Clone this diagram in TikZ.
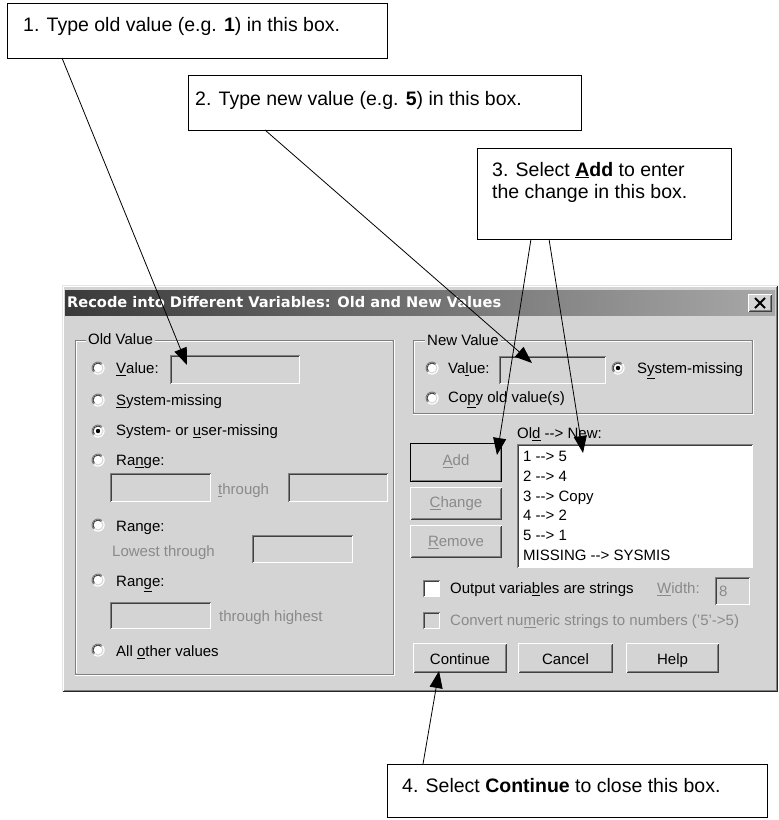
\documentclass[tikz,border=0pt]{standalone}
\usepackage{fontspec}
\setmainfont{Liberation Sans}
\newfontfamily\titlefont{DejaVu Sans}
\usetikzlibrary{arrows.meta,calc}
\definecolor{dlgbg}{HTML}{D4D4D4}
\definecolor{bvshade}{HTML}{808080}
\definecolor{bvdark}{HTML}{404040}
\definecolor{distext}{HTML}{8A8A8A}
\definecolor{tbl}{HTML}{3A3A3A}
\definecolor{tbr}{HTML}{A8A8A8}
\newcommand\arrw{-{}->}
\tikzset{
  x=1pt,y=-1pt,
  callout/.style={draw=black,line width=0.9pt,fill=white,inner sep=0,outer sep=0},
  ctext/.style={anchor=base west,inner sep=0,font=\fontsize{19.5}{22}\selectfont},
  arr/.style={line width=0.8pt,-{Triangle[length=17pt,width=13pt]}},
  dtext/.style={anchor=west,inner sep=0,text height=10.7pt,text depth=0pt,font=\fontsize{15}{17}\selectfont},
  gtext/.style={dtext,text=distext},
  box/.style={inner sep=0,outer sep=0,anchor=north west},
}
% sunken field: name, x1, y1, x2, y2, fill
\newcommand\sunkbox[6]{%
  \node[box,fill=#6,minimum width={(#4-#2)*1pt},minimum height={(#5-#3)*1pt}] (#1) at (#2,#3) {};
  \draw[bvshade,line width=1pt] ([xshift=0.5pt,yshift=0.5pt]#1.south west) -- ([xshift=0.5pt,yshift=-0.5pt]#1.north west) -- ([xshift=-0.5pt,yshift=-0.5pt]#1.north east);
  \draw[bvdark,line width=1pt] ([xshift=1.5pt,yshift=1.5pt]#1.south west) -- ([xshift=1.5pt,yshift=-1.5pt]#1.north west) -- ([xshift=-1.5pt,yshift=-1.5pt]#1.north east);
  \draw[white,line width=1pt] ([xshift=-0.5pt,yshift=-0.5pt]#1.north east) -- ([xshift=-0.5pt,yshift=0.5pt]#1.south east) -- ([xshift=0.5pt,yshift=0.5pt]#1.south west);
}
% raised button: name, x1, y1, x2, y2
\newcommand\btnbox[5]{%
  \node[box,fill=dlgbg,minimum width={(#4-#2)*1pt},minimum height={(#5-#3)*1pt}] (#1) at (#2,#3) {};
  \draw[white,line width=1pt] ([xshift=0.5pt,yshift=0.5pt]#1.south west) -- ([xshift=0.5pt,yshift=-0.5pt]#1.north west) -- ([xshift=-0.5pt,yshift=-0.5pt]#1.north east);
  \draw[bvdark,line width=1pt] ([xshift=-0.5pt,yshift=-0.5pt]#1.north east) -- ([xshift=-0.5pt,yshift=0.5pt]#1.south east) -- ([xshift=0.5pt,yshift=0.5pt]#1.south west);
  \draw[bvshade,line width=1pt] ([xshift=-1.5pt,yshift=-1.5pt]#1.north east) -- ([xshift=-1.5pt,yshift=1.5pt]#1.south east) -- ([xshift=1.5pt,yshift=1.5pt]#1.south west);
}
% radio: name, x, y, checked(0/1)  (y axis points down: angle 225 is top-left)
\newcommand\radio[4]{%
  \node[circle,fill=white,draw=none,inner sep=0,minimum size=13pt] (#1) at (#2,#3) {};
  \draw[bvshade,line width=1pt] ([shift={(#2,#3)}]135:6) arc[start angle=135,end angle=315,radius=6];
  \draw[bvdark,line width=1pt] ([shift={(#2,#3)}]135:5) arc[start angle=135,end angle=315,radius=5];
  \draw[white,line width=1pt] ([shift={(#2,#3)}]315:6) arc[start angle=315,end angle=495,radius=6];
  \draw[dlgbg,line width=1pt] ([shift={(#2,#3)}]315:5) arc[start angle=315,end angle=495,radius=5];
  \ifnum#4=1 \fill[black] (#2,#3) circle (2.2);\fi
}
% etched group box
\newcommand\groupbox[4]{%
  \draw[bvshade,line width=1pt] (#1,#2) rectangle (#3,#4);
  \draw[white,line width=1pt] ({#1+1},{#2+1}) -- ({#1+1},{#4-1}) (#1,{#4+1}) -- ({#3+1},{#4+1}) -- ({#3+1},#2);
  \draw[white,line width=1pt] ({#1+1},{#2+1}) -- ({#3-1},{#2+1});
}
\begin{document}
\begin{tikzpicture}
\useasboundingbox (0,0) rectangle (779,820);
\fill[white] (0,0) rectangle (779,820);

% ---------------- dialog ----------------
\node[box,fill=dlgbg,minimum width=716pt,minimum height=407pt] (dlg) at (62,285) {};
\draw[dlgbg!60!white,line width=1pt] (62.5,691.5) -- (62.5,285.5) -- (777.5,285.5);
\draw[white,line width=1pt] (63.5,690.5) -- (63.5,286.5) -- (776.5,286.5);
\draw[black!85,line width=1pt] (777.5,285.5) -- (777.5,691.5) -- (62.5,691.5);
\draw[bvshade,line width=1pt] (776.5,286.5) -- (776.5,690.5) -- (63.5,690.5);
\shade[left color=tbl,right color=tbr] (65,290) rectangle (775,315);
\node[anchor=west,inner sep=0,text=white,font=\titlefont\bfseries\fontsize{14.6}{16}\selectfont] (title) at (67,302.5) {Recode into Different Variables: Old and New Values};
\btnbox{closebtn}{748}{294}{772}{312}
\draw[black,line width=2pt] (755,298) -- (765,308) (765,298) -- (755,308);

% Old Value group
\groupbox{75}{340}{393}{674}
\node[dtext,fill=dlgbg,inner xsep=2pt] (oldlbl) at (86,339) {Old Value};
\radio{r1}{98}{368}{0}
\node[dtext] (t1) at (116,368.5) {\underline{V}alue:};
\sunkbox{oldval}{170}{355}{300}{384}{dlgbg}
\radio{r2}{98}{400}{0}
\node[dtext] (t2) at (116,400) {\underline{S}ystem-missing};
\radio{r3}{98}{431}{1}
\node[dtext] (t3) at (116,430.5) {System- or \underline{u}ser-missing};
\radio{r4}{98}{460}{0}
\node[dtext] (t4) at (116,460) {Ra\underline{n}ge:};
\sunkbox{rng1a}{110}{473}{211}{502}{dlgbg}
\node[gtext] (thr1) at (218,489) {\underline{t}hrough};
\sunkbox{rng1b}{288}{473}{388}{502}{dlgbg}
\radio{r5}{98}{525}{0}
\node[dtext] (t5) at (116,526) {Range:};
\node[gtext] (lowthr) at (112,551) {Lowest through};
\sunkbox{rng2}{252}{535}{353}{563}{dlgbg}
\radio{r6}{98}{580}{0}
\node[dtext] (t6) at (116,581) {Ran\underline{g}e:};
\sunkbox{rng3}{110}{602}{211}{629}{dlgbg}
\node[gtext] (thrhi) at (219,616.5) {through highest};
\radio{r7}{98}{650}{0}
\node[dtext] (t7) at (116,651) {All \underline{o}ther values};

% New Value group
\groupbox{413}{340}{752}{413}
\node[dtext,fill=dlgbg,inner xsep=2pt] (newlbl) at (425,340) {New Value};
\radio{r8}{432}{368}{0}
\node[dtext] (t8) at (448,368.5) {Va\underline{l}ue:};
\sunkbox{newval}{499}{356}{606}{384}{dlgbg}
\radio{r9}{618}{368}{1}
\node[dtext] (t9) at (637,368.5) {S\underline{y}stem-missing};
\radio{r10}{432}{398}{0}
\node[dtext] (t10) at (448,397) {Co\underline{p}y old value(s)};

% Old --> New list
\node[dtext] (oldnew) at (517,433) {Ol\underline{d} \arrw{} New:};
\sunkbox{listbox}{517}{444}{753}{568}{white}
\node[dtext] (l1) at (523,456.5) {1 \arrw{} 5};
\node[dtext] (l2) at (523,476) {2 \arrw{} 4};
\node[dtext] (l3) at (523,496) {3 \arrw{} Copy};
\node[dtext] (l4) at (523,515.5) {4 \arrw{} 2};
\node[dtext] (l5) at (523,535.5) {5 \arrw{} 1};
\node[dtext] (l6) at (523,555) {MISSING \arrw{} SYSMIS};

% buttons
\btnbox{addbtn}{410}{443}{502}{482}
\draw[black,line width=1pt] (410.5,443.5) rectangle (501.5,481.5);
\node[gtext,anchor=center] (addt) at (456,460) {\underline{A}dd};
\btnbox{chgbtn}{410}{487}{502}{520}
\node[gtext,anchor=center] (chgt) at (456,502) {\underline{C}hange};
\btnbox{rembtn}{410}{525}{502}{558}
\node[gtext,anchor=center] (remt) at (456,541.5) {\underline{R}emove};

% checkboxes
\sunkbox{cb1}{423}{580}{440}{597}{white}
\node[dtext] (cb1t) at (450,588.5) {Output varia\underline{b}les are strings};
\node[gtext] (widtht) at (657,588.5) {\underline{W}idth:};
\sunkbox{widthf}{715}{577}{750}{605}{dlgbg}
\node[gtext] (eight) at (719,591.5) {8};
\sunkbox{cb2}{423}{612}{440}{629}{dlgbg}
\node[gtext] (cb2t) at (450,620) {Convert nu\underline{m}eric strings to numbers ('5'->5)};

\btnbox{contbtn}{413}{643}{507}{673}
\node[dtext,anchor=center] (contt) at (460,659.5) {Continue};
\btnbox{cancbtn}{518}{643}{613}{673}
\node[dtext,anchor=center] (canct) at (565.5,659.5) {Cancel};
\btnbox{helpbtn}{626}{643}{719}{673}
\node[dtext,anchor=center] (helpt) at (672.5,659.5) {Help};

% ---------------- callouts ----------------
\node[callout,anchor=north west,minimum width=380pt,minimum height=55pt] (c1) at (7,3) {};
\node[ctext] (c1t) at (23,31.5) {1. Type old value (e.g. \textbf{1}) in this box.};
\node[callout,anchor=north west,minimum width=393pt,minimum height=55pt] (c2) at (188,75) {};
\node[ctext] (c2t) at (195,105) {2. Type new value (e.g. \textbf{5}) in this box.};
\node[callout,anchor=north west,minimum width=254pt,minimum height=91pt] (c3) at (477,148) {};
\node[ctext] (c3t) at (492,176) {3. Select \textbf{\underline{A}dd} to enter};
\node[ctext] (c3t2) at (492,198) {the change in this box.};
\node[callout,anchor=north west,minimum width=380pt,minimum height=53pt] (c4) at (387,764) {};
\node[ctext] (c4t) at (402,792) {4. Select \textbf{Continue} to close this box.};

% ---------------- arrows ----------------
\draw[arr] ($(c1.south west)+(55,0)$) -- ($(oldval.north west)+(17,10)$);
\draw[arr] ($(c2.south west)+(77,0)$) -- ($(newval.north west)+(33,7)$);
\draw[arr] ($(c3.south west)+(54,0)$) -- ($(addbtn.north west)+(87,12)$);
\draw[arr] ($(c3.south west)+(72,0)$) -- ($(listbox.north west)+(66,9)$);
\draw[arr] ($(c4.north west)+(36,0)$) -- ($(contbtn.south west)+(26,-2)$);
\end{tikzpicture}
\end{document}
